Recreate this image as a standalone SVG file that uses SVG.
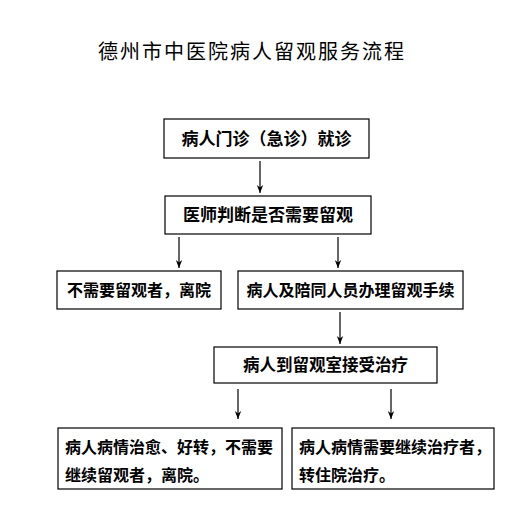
<svg xmlns="http://www.w3.org/2000/svg" width="518" height="528" viewBox="0 0 518 528">
<defs>
<marker id="ah" viewBox="0 0 10 10" refX="10" refY="5" markerWidth="8" markerHeight="8" markerUnits="userSpaceOnUse" orient="auto">
<path d="M0,1 L10,5 L0,9 L3,5 Z" fill="#000"/>
</marker>
</defs>
<style>
.box{fill:#fff;stroke:#000;stroke-width:1.2}
.t{font-family:"Noto Sans CJK SC","Noto Sans",sans-serif;font-weight:bold;fill:#000;text-anchor:middle}
.tl{font-family:"Noto Sans CJK SC","Noto Sans",sans-serif;font-weight:bold;fill:#000}
.c{stroke:#000;stroke-width:1.2;fill:none;marker-end:url(#ah)}
</style>
<rect width="518" height="528" fill="#fff"/>
<text class="t" x="252" y="59" font-size="20" letter-spacing="2" style="font-weight:normal">德州市中医院病人留观服务流程</text>
<g id="connectors">
<line class="c" x1="260" y1="161" x2="260" y2="193"/>
<line class="c" x1="179" y1="237" x2="179" y2="268"/>
<line class="c" x1="338" y1="237" x2="338" y2="268"/>
<line class="c" x1="340" y1="312" x2="340" y2="344"/>
<line class="c" x1="238" y1="389" x2="238" y2="419"/>
<line class="c" x1="391" y1="389" x2="391" y2="419"/>
</g>
<g id="n1"><rect class="box" x="164" y="119" width="205" height="39"/><text class="t" x="266.5" y="145" font-size="17">病人门诊（急诊）就诊</text></g>
<g id="n2"><rect class="box" x="165" y="196" width="206" height="38"/><text class="t" x="268" y="221" font-size="17">医师判断是否需要留观</text></g>
<g id="n3"><rect class="box" x="57" y="271" width="164" height="38"/><text class="t" x="139" y="296" font-size="16">不需要留观者，离院</text></g>
<g id="n4"><rect class="box" x="238" y="271" width="225" height="38"/><text class="t" x="350.5" y="296" font-size="16">病人及陪同人员办理留观手续</text></g>
<g id="n5"><rect class="box" x="214" y="347" width="223" height="36"/><text class="t" x="325.5" y="371" font-size="16.5">病人到留观室接受治疗</text></g>
<g id="n6"><rect class="box" x="58" y="428" width="224" height="61"/><text class="tl" x="65" y="453" font-size="16">病人病情治愈、好转，不需要</text><text class="tl" x="65" y="481" font-size="16">继续留观者，离院。</text></g>
<g id="n7"><rect class="box" x="292" y="428" width="202" height="61"/><text class="tl" x="299" y="453" font-size="16">病人病情需要继续治疗者，</text><text class="tl" x="299" y="481" font-size="16">转住院治疗。</text></g>
</svg>
